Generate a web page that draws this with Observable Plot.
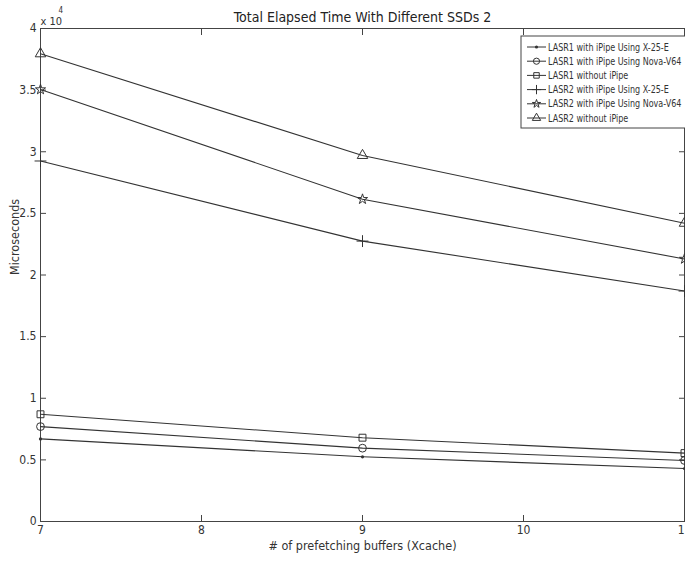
<!DOCTYPE html>
<html>
<head>
<meta charset="utf-8">
<script src="https://cdn.jsdelivr.net/npm/d3@7"></script>
<script src="https://cdn.jsdelivr.net/npm/@observablehq/plot@0.6"></script>
<style>
  body { margin: 0; background: #fff; }
  #chart { width: 685px; height: 565px; overflow: hidden; }
</style>
</head>
<body>
<div id="chart"></div>
<script>
// Number of prefetching buffers (Xcache) measured
const buffers = [7, 9, 11];

// Series names, in legend order
const seriesNames = [
  "LASR1 with iPipe Using X-25-E",
  "LASR1 with iPipe Using Nova-V64",
  "LASR1 without iPipe",
  "LASR2 with iPipe Using X-25-E",
  "LASR2 with iPipe Using Nova-V64",
  "LASR2 without iPipe"
];

// Total elapsed time (microseconds) per series
const lasr1X25E     = [6700, 5250, 4300];
const lasr1Nova     = [7700, 5950, 4950];
const lasr1NoIpipe  = [8700, 6800, 5550];
const lasr2X25E     = [29250, 22750, 18700];
const lasr2Nova     = [35050, 26150, 21300];
const lasr2NoIpipe  = [37950, 29700, 24200];

// Marker per series
const seriesSymbols = ["dot", "circle", "square", "plus", "star", "triangle"];

// Axis ticks
const xTicks = [7, 8, 9, 10, 11];
const yTicks = [0, 5000, 10000, 15000, 20000, 25000, 30000, 35000, 40000];
const yTickLabels = ["0", "0.5", "1", "1.5", "2", "2.5", "3", "3.5", "4"];

const seriesValues = [lasr1X25E, lasr1Nova, lasr1NoIpipe, lasr2X25E, lasr2Nova, lasr2NoIpipe];
const rows = seriesNames.flatMap((name, i) =>
  buffers.map((b, j) => ({series: name, buffers: b, time: seriesValues[i][j], symbol: seriesSymbols[i]}))
);

const FONT = "'Liberation Sans Narrow', 'DejaVu Sans Condensed', 'Liberation Sans', sans-serif";
const INK = "#333";

const plot = Plot.plot({
  width: 685,
  height: 565,
  marginLeft: 40,
  marginRight: 1,
  marginTop: 28,
  marginBottom: 44,
  style: {fontFamily: FONT, fontSize: "12px", color: INK, background: "#fff", overflow: "visible"},
  x: {domain: [7, 11]},
  y: {domain: [0, 40000]},
  marks: [
    Plot.frame({stroke: "#444"}),
    // inward ticks on all four sides
    Plot.axisX({anchor: "bottom", ticks: xTicks, tickSize: -6, tickPadding: 10, label: null,
                tickFormat: d => String(d), fontSize: 12, stroke: "#444"}),
    Plot.axisX({anchor: "top", ticks: xTicks, tickSize: -6, label: null, tickFormat: () => "", stroke: "#444"}),
    Plot.axisY({anchor: "left", ticks: yTicks, tickSize: -6, tickPadding: 10, label: null,
                tickFormat: d => yTickLabels[yTicks.indexOf(d)], fontSize: 12, stroke: "#444"}),
    Plot.axisY({anchor: "right", ticks: yTicks, tickSize: -6, label: null, tickFormat: () => "", stroke: "#444"}),
    // series lines
    Plot.line(rows, {x: "buffers", y: "time", z: "series", stroke: INK, strokeWidth: 1.1}),
    // markers
    Plot.dot(rows.filter(d => d.symbol === "dot"), {x: "buffers", y: "time", r: 1.6, fill: INK, stroke: "none"}),
    Plot.dot(rows.filter(d => d.symbol !== "dot" && d.symbol !== "star"), {
      x: "buffers", y: "time", symbol: "symbol", r: 3.9, fill: "none", stroke: INK, strokeWidth: 1
    }),
    Plot.dot(rows.filter(d => d.symbol === "star"), {
      x: "buffers", y: "time", symbol: "star", r: 3.2, fill: "none", stroke: INK, strokeWidth: 1
    }),
    // title and axis labels
    Plot.text(["Total Elapsed Time With Different SSDs 2"], {
      frameAnchor: "top", dy: -16, fontSize: 14, fill: "#222"
    }),
    Plot.text(["# of prefetching buffers (Xcache)"], {
      frameAnchor: "bottom", dy: 28, fontSize: 12.5, fill: INK
    }),
    Plot.text(["Microseconds"], {
      frameAnchor: "left", dx: -26, rotate: -90, fontSize: 12.5, fill: INK
    }),
    Plot.text(["x 10"], {frameAnchor: "top-left", dx: 0, dy: -11, textAnchor: "start", fontSize: 11, fill: INK}),
    Plot.text(["4"], {frameAnchor: "top-left", dx: 18, dy: -21, textAnchor: "start", fontSize: 8, fill: INK})
  ]
});

// Legend box in the upper-right corner of the axes
const svg = d3.select(plot);
const lg = svg.append("g").attr("font-family", FONT).attr("font-size", 10.5)
  .attr("fill", INK).attr("text-anchor", "start");
const lx = 521, ly = 36, lw = 175, lh = 92, step = 14.2;
lg.append("rect").attr("x", lx).attr("y", ly).attr("width", lw).attr("height", lh)
  .attr("fill", "#fff").attr("stroke", "#444");
const d3Symbols = {circle: d3.symbolCircle, square: d3.symbolSquare, plus: d3.symbolPlus,
                   star: d3.symbolStar, triangle: d3.symbolTriangle};
seriesNames.forEach((name, i) => {
  const cy = ly + 11 + i * step;
  const row = lg.append("g");
  row.append("line").attr("x1", lx + 6).attr("x2", lx + 25).attr("y1", cy).attr("y2", cy)
    .attr("stroke", INK).attr("stroke-width", 1);
  const sym = seriesSymbols[i];
  if (sym === "dot") {
    row.append("circle").attr("cx", lx + 15.5).attr("cy", cy).attr("r", 1.6).attr("fill", INK);
  } else {
    const r = sym === "star" ? 2.6 : 3.1;
    row.append("path").attr("transform", `translate(${lx + 15.5},${cy})`)
      .attr("d", d3.symbol(d3Symbols[sym], r * r * Math.PI)())
      .attr("fill", "none").attr("stroke", INK);
  }
  // condensed label so the longest entry fits inside the box
  row.append("text").attr("transform", `translate(${lx + 27},${cy}) scale(0.85,1)`)
    .attr("dy", "0.35em").text(name);
});

document.getElementById("chart").appendChild(plot);
</script>
</body>
</html>
